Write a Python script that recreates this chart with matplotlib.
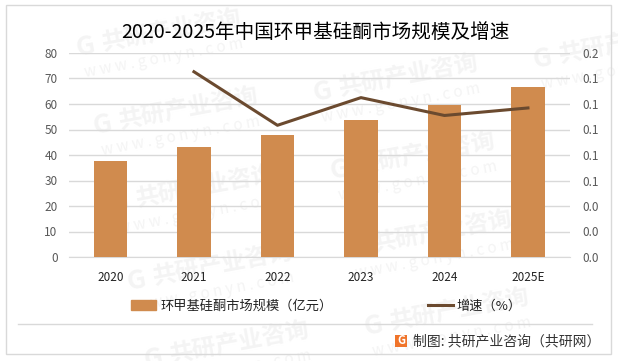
import matplotlib
matplotlib.use("Agg")
from matplotlib import pyplot as plt
from matplotlib.patches import Rectangle
from matplotlib.lines import Line2D
import numpy as np

plt.rcParams['font.family'] = ['Noto Sans CJK SC', 'DejaVu Sans']

# datos
anios = ["2020", "2021", "2022", "2023", "2024", "2025E"]
mercado = [37.6, 43.1, 47.8, 53.7, 59.6, 66.7]
anios_linea = ["2021", "2022", "2023", "2024", "2025E"]
crecimiento = [0.1453, 0.1033, 0.125, 0.111, 0.1169]
ticks_izq = [0, 10, 20, 30, 40, 50, 60, 70, 80]
ticks_der = [0, 0.02, 0.04, 0.06, 0.08, 0.10, 0.12, 0.14, 0.16]

W, H = 618, 361
COLOR_BARRA = "#d08b4e"
COLOR_LINEA = "#6b4a2f"
COLOR_GRID = "#d9d9d9"
COLOR_TICK = "#595959"
COLOR_AGUA = "#f4f4f4"


def fx(x):
    return x / W


def fy(y):
    return 1 - y / H


def marcaDeAgua(fig, cx, cy):
    ang = 10.5
    fig.text(fx(cx + 12), fy(cy - 2), "共研产业咨询", fontsize=17, fontweight="bold", color=COLOR_AGUA,
             rotation=ang, rotation_mode="anchor", ha="center", va="center", zorder=-1)
    fig.text(fx(cx - 74), fy(cy + 14), "G", fontsize=19, fontweight="bold", color=COLOR_AGUA,
             rotation=ang, rotation_mode="anchor", ha="center", va="center", zorder=-1)
    fig.text(fx(cx + 4), fy(cy + 25), "w w w . g o n y n . c o m", fontsize=11, color=COLOR_AGUA,
             rotation=ang, rotation_mode="anchor", ha="center", va="center", zorder=-1)


fig = plt.figure(figsize=(W / 100, H / 100), dpi=100, facecolor="white")

# marco exterior
fig.add_artist(Rectangle((fx(6), fy(354)), fx(605), 349 / H, fill=False, edgecolor="#d9d9d9", linewidth=1, zorder=1))

# marcas de agua en grilla, solo las que caen dentro de la imagen
for col in range(-1, 3):
    for fila in range(-1, 5):
        cx = 160 + 237 * col + 17 * fila
        cy = 33 + 78 * fila + 45 * col
        if 0 < cx < W and 0 < cy < H:
            marcaDeAgua(fig, cx, cy)

ax = fig.add_axes([fx(68.7), fy(257), fx(501), 204 / H], zorder=2)
ax.patch.set_alpha(0)
x = np.arange(len(anios))
ax.bar(x, mercado, width=0.4, color=COLOR_BARRA, zorder=3)
ax.set_xlim(-0.5, 5.5)
ax.set_ylim(0, 80)
ax.set_yticks(ticks_izq)
ax.set_xticks(x, anios)
ax.grid(axis="y", color=COLOR_GRID, linewidth=1, zorder=0)
ax.set_axisbelow(True)
ax.tick_params(axis="y", length=0, labelsize=8.5, labelcolor=COLOR_TICK, pad=8)
ax.tick_params(axis="x", length=0, labelsize=8.5, labelcolor="#222222", pad=10)
for s in ["top", "left", "right"]:
    ax.spines[s].set_visible(False)
ax.spines["bottom"].set_color(COLOR_GRID)

ax2 = ax.twinx()
ax2.patch.set_alpha(0)
x_linea = [anios.index(a) for a in anios_linea]
ax2.plot(x_linea, crecimiento, color=COLOR_LINEA, linewidth=2.2, zorder=4)
ax2.set_ylim(0, 0.16)
ax2.set_yticks(ticks_der, [f"{t:.1f}" for t in ticks_der])
ax2.tick_params(axis="y", length=0, labelsize=8.5, labelcolor=COLOR_TICK, pad=9)
for s in ax2.spines.values():
    s.set_visible(False)

fig.text(fx(315.5), fy(32), "2020-2025年中国环甲基硅酮市场规模及增速", fontsize=14.1, color="black",
         ha="center", va="center")

handles = [Rectangle((0, 0), 1, 1, color=COLOR_BARRA), Line2D([0], [0], color=COLOR_LINEA, linewidth=2.2)]
fig.legend(handles, ["环甲基硅酮市场规模（亿元）", "增速（%）"], ncol=2, frameon=False, fontsize=9.5,
           loc="center", bbox_to_anchor=(fx(326.5), fy(306)), handlelength=1.9, handletextpad=0.3,
           columnspacing=7.2, labelcolor="#222222")

fig.add_artist(Line2D([fx(18), fx(592)], [fy(324), fy(324)], color=COLOR_GRID, linewidth=1))
fig.add_artist(Rectangle((fx(395), fy(347)), 12 / W, 12 / H, facecolor="#f0742a", edgecolor="none"))
fig.text(fx(401), fy(341), "G", fontsize=8, fontweight="bold", color="white", ha="center", va="center")
fig.text(fx(413), fy(341), "制图: 共研产业咨询（共研网）", fontsize=10, color="#333333", ha="left", va="center")

plt.savefig("out.png", dpi=100)
